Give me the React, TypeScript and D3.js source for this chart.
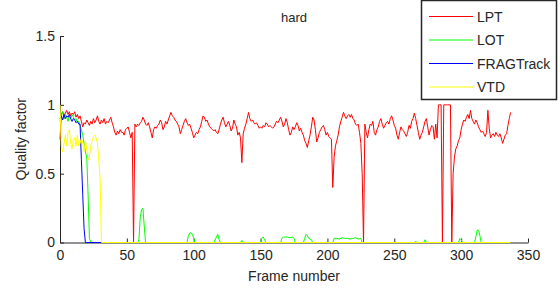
import { useEffect, useRef } from 'react'
import * as d3 from 'd3'

// LPT quality factor, one value per frame (index = frame number)
const lptValues = [
  0.75, 0.93, 0.95, 0.92, 0.94, 0.96, 0.93, 0.95, 0.92, 0.94,
  0.93, 0.95, 0.91, 0.93, 0.9, 0.92, 0.88, 0.84, 0.87, 0.86,
  0.89, 0.87, 0.85, 0.88, 0.86, 0.9, 0.87, 0.89, 0.92, 0.88,
  0.86, 0.89, 0.87, 0.9, 0.86, 0.88, 0.87, 0.89, 0.91, 0.87,
  0.84, 0.8, 0.78, 0.81, 0.79, 0.82, 0.8, 0.8, 0.78, 0.82,
  0.83, 0.84, 0.8, 0.76, 0.8, 0.0, 0.86, 0.84, 0.86, 0.85,
  0.87, 0.88, 0.91, 0.89, 0.86, 0.85, 0.87, 0.84, 0.8, 0.76,
  0.82, 0.84, 0.83, 0.85, 0.86, 0.89, 0.87, 0.82, 0.84, 0.88,
  0.86, 0.89, 0.92, 0.945, 0.92, 0.91, 0.89, 0.88, 0.86, 0.84,
  0.79, 0.82, 0.85, 0.88, 0.9, 0.87, 0.85, 0.86, 0.83, 0.8,
  0.76, 0.78, 0.8, 0.79, 0.82, 0.84, 0.88, 0.92, 0.91, 0.88,
  0.89, 0.86, 0.84, 0.83, 0.82, 0.81, 0.82, 0.8, 0.79, 0.82,
  0.86, 0.89, 0.91, 0.87, 0.84, 0.86, 0.88, 0.85, 0.81, 0.83,
  0.89, 0.86, 0.84, 0.78, 0.8, 0.76, 0.58, 0.79, 0.83, 0.86,
  0.9, 0.945, 0.9, 0.88, 0.89, 0.87, 0.86, 0.87, 0.85, 0.83,
  0.84, 0.83, 0.85, 0.84, 0.87, 0.86, 0.84, 0.85, 0.84, 0.83,
  0.84, 0.86, 0.88, 0.87, 0.89, 0.91, 0.88, 0.84, 0.86, 0.9,
  0.87, 0.82, 0.78, 0.8, 0.84, 0.82, 0.84, 0.87, 0.85, 0.81,
  0.83, 0.8, 0.78, 0.74, 0.72, 0.69, 0.74, 0.78, 0.84, 0.91,
  0.89, 0.82, 0.73, 0.76, 0.8, 0.82, 0.84, 0.85, 0.82, 0.78,
  0.8, 0.77, 0.76, 0.75, 0.4, 0.62, 0.7, 0.74, 0.78, 0.84,
  0.88, 0.91, 0.945, 0.92, 0.9, 0.92, 0.93, 0.91, 0.93, 0.9,
  0.89, 0.86, 0.85, 0.86, 0.8, 0.72, 0.5, 0.0, 0.86, 0.8,
  0.76, 0.82, 0.86, 0.85, 0.88, 0.8, 0.78, 0.82, 0.84, 0.88,
  0.9, 0.86, 0.83, 0.85, 0.87, 0.88, 0.86, 0.9, 0.92, 0.89,
  0.85, 0.83, 0.78, 0.75, 0.8, 0.84, 0.82, 0.81, 0.79, 0.77,
  0.8, 0.85, 0.83, 0.88, 0.9, 0.94, 0.9, 0.85, 0.8, 0.75,
  0.78, 0.8, 0.84, 0.88, 0.9, 0.84, 0.78, 0.82, 0.85, 0.84,
  0.75, 0.86, 0.76, 1.0, 1.0, 1.0, 0.0, 1.0, 1.0, 1.0,
  1.0, 1.0, 1.0, 0.0, 0.5, 0.62, 0.68, 0.7, 0.74, 0.76,
  0.82, 0.86, 0.89, 0.88, 0.91, 0.93, 0.9, 0.96, 0.9, 0.88,
  0.86, 0.89, 0.87, 0.84, 0.82, 0.8, 0.81, 0.79, 0.77, 0.8,
  0.96, 0.83, 0.76, 0.78, 0.79, 0.77, 0.8, 0.78, 0.77, 0.79,
  0.76, 0.72, 0.75, 0.78, 0.79, 0.85, 0.9, 0.945,
]
const lptFrames = lptValues.map((_, i) => i)

const lotFrames = [
  0, 1, 2, 3, 4, 5, 6, 7, 8, 9, 10, 11, 12, 13, 14, 15, 16, 17, 18, 19, 20, 21, 22, 23,
  58, 59, 60, 61, 62, 63, 64,
  95, 96, 97, 98, 99, 100, 101,
  115, 117, 118, 119, 120,
  135, 136, 137,
  150, 151, 152, 153, 154,
  165, 166, 167, 170, 172, 174, 175, 176,
  182, 183, 184, 185, 186, 188, 189,
  204, 205, 207, 209, 211, 213, 215, 217, 219, 221, 223, 225, 226,
  265, 266, 267, 272, 273, 274,
  298, 299, 300, 301,
  310, 311, 312, 313, 314, 315, 337,
]
const lotValues = [
  0.88, 0.93, 0.95, 0.9, 0.93, 0.91, 0.88, 0.92, 0.9, 0.93, 0.91, 0.89, 0.9, 0.87, 0.88, 0.85, 0.82, 0.78, 0.72, 0.66, 0.62, 0.35, 0.03, 0,
  0, 0.02, 0.18, 0.24, 0.25, 0.12, 0,
  0, 0.05, 0.07, 0.07, 0.06, 0.03, 0,
  0, 0.04, 0.06, 0.02, 0,
  0, 0.015, 0,
  0, 0.03, 0.04, 0.02, 0,
  0, 0.03, 0.04, 0.04, 0.035, 0.04, 0.03, 0,
  0, 0.03, 0.06, 0.05, 0.03, 0.02, 0,
  0, 0.03, 0.03, 0.025, 0.035, 0.03, 0.03, 0.025, 0.03, 0.035, 0.025, 0.03, 0,
  0, 0.01, 0, 0, 0.02, 0,
  0, 0.03, 0.02, 0,
  0, 0.04, 0.09, 0.09, 0.05, 0, 0,
]

const fragFrames = [0, 1, 2, 3, 4, 5, 6, 7, 8, 9, 10, 11, 12, 13, 14, 15, 16, 17, 18, 19, 337]
const fragValues = [0.9, 0.92, 0.89, 0.93, 0.9, 0.92, 0.91, 0.93, 0.9, 0.88, 0.9, 0.89, 0.87, 0.88, 0.86, 0.86, 0.6, 0.35, 0.1, 0, 0]

const vtdFrames = [
  0, 1, 2, 3, 4, 5, 6, 7, 8, 9, 10, 11, 12, 13, 14, 15, 16, 17, 18, 19,
  20, 21, 22, 23, 24, 25, 26, 27, 28, 29, 30, 31, 337,
]
const vtdValues = [
  1.0, 0.7, 0.66, 0.72, 0.78, 0.7, 0.8, 0.82, 0.72, 0.68, 0.74, 0.76, 0.7, 0.78, 0.7, 0.72, 0.76, 0.72, 0.66, 0.74,
  0.68, 0.6, 0.62, 0.7, 0.74, 0.77, 0.78, 0.76, 0.72, 0.6, 0.46, 0, 0,
]

const seriesNames = ['LPT', 'LOT', 'FRAGTrack', 'VTD']
const seriesColors = ['#ff0000', '#00ff00', '#0000ff', '#ffff00']

const xTicks = [0, 50, 100, 150, 200, 250, 300, 350]
const yTicks = [0, 0.5, 1, 1.5]

const FONT = '"Liberation Sans", Arial, sans-serif'
const INK = '#262626'

export default function App() {
  const svgRef = useRef<SVGSVGElement>(null)

  useEffect(() => {
    const svgEl = svgRef.current
    if (!svgEl) return
    const width = 560
    const height = 288
    const margin = { top: 36, right: 32, bottom: 45.5, left: 60 }

    const x = d3.scaleLinear().domain([0, 350]).range([margin.left, width - margin.right])
    const y = d3.scaleLinear().domain([0, 1.5]).range([height - margin.bottom, margin.top])

    const svg = d3.select(svgEl)
    svg.selectAll('*').remove()
    svg.append('rect').attr('width', width).attr('height', height).style('fill', '#fff')

    const series = [
      { frames: lptFrames, values: lptValues },
      { frames: lotFrames, values: lotValues },
      { frames: fragFrames, values: fragValues },
      { frames: vtdFrames, values: vtdValues },
    ]

    // X axis
    const xAxisG = svg.append('g').attr('transform', `translate(0,${height - margin.bottom})`)
    xAxisG.call(
      d3.axisBottom(x).tickValues(xTicks).tickSizeInner(-4).tickSizeOuter(0).tickPadding(8)
        .tickFormat(d => String(d)),
    )
    // Y axis
    const yAxisG = svg.append('g').attr('transform', `translate(${margin.left},0)`)
    yAxisG.call(
      d3.axisLeft(y).tickValues(yTicks).tickSizeInner(-4).tickSizeOuter(0).tickPadding(5)
        .tickFormat(d => String(d)),
    )
    for (const g of [xAxisG, yAxisG]) {
      g.select('.domain').style('stroke', INK)
      g.selectAll('.tick line').style('stroke', INK)
      g.selectAll('text')
        .style('fill', INK)
        .style('font-size', '14px')
        .style('font-family', FONT)
    }

    // Lines
    series.forEach((s, k) => {
      const pts = s.frames.map((f, i) => [f, s.values[i]] as [number, number])
      const line = d3.line<[number, number]>().x(d => x(d[0])).y(d => y(d[1]))
      svg.append('path')
        .datum(pts)
        .attr('fill', 'none')
        .attr('d', line)
        .style('stroke', seriesColors[k])
        .style('stroke-width', '1')
    })

    // Title and labels
    svg.append('text')
      .attr('x', (margin.left + width - margin.right) / 2)
      .attr('y', 22)
      .attr('text-anchor', 'middle')
      .style('fill', INK).style('font-size', '13px').style('font-family', FONT)
      .text('hard')

    svg.append('text')
      .attr('x', (margin.left + width - margin.right) / 2)
      .attr('y', 281)
      .attr('text-anchor', 'middle')
      .style('fill', INK).style('font-size', '14px').style('font-family', FONT)
      .text('Frame number')

    svg.append('text')
      .attr('transform', `translate(26,${(margin.top + height - margin.bottom) / 2}) rotate(-90)`)
      .attr('text-anchor', 'middle')
      .style('fill', INK).style('font-size', '14px').style('font-family', FONT)
      .text('Quality factor')

    // Legend
    const lg = svg.append('g')
    lg.append('rect')
      .attr('x', 421.5).attr('y', 0.5).attr('width', 135).attr('height', 99)
      .style('fill', '#fff').style('stroke', INK).style('stroke-width', '1.5')
    seriesNames.forEach((name, k) => {
      const ly = 16.5 + k * 23.5
      lg.append('line')
        .attr('x1', 429).attr('x2', 473).attr('y1', ly).attr('y2', ly)
        .style('stroke', seriesColors[k]).style('stroke-width', '1')
      lg.append('text')
        .attr('x', 477).attr('y', ly + 5)
        .style('fill', INK).style('font-size', '14px').style('font-family', FONT)
        .text(name)
    })
  }, [])

  return (
    <div style={{ position: 'absolute', left: 0, top: 0, width: 560, height: 288, background: '#fff' }}>
      <svg ref={svgRef} width={560} height={288} style={{ display: 'block' }} />
    </div>
  )
}
